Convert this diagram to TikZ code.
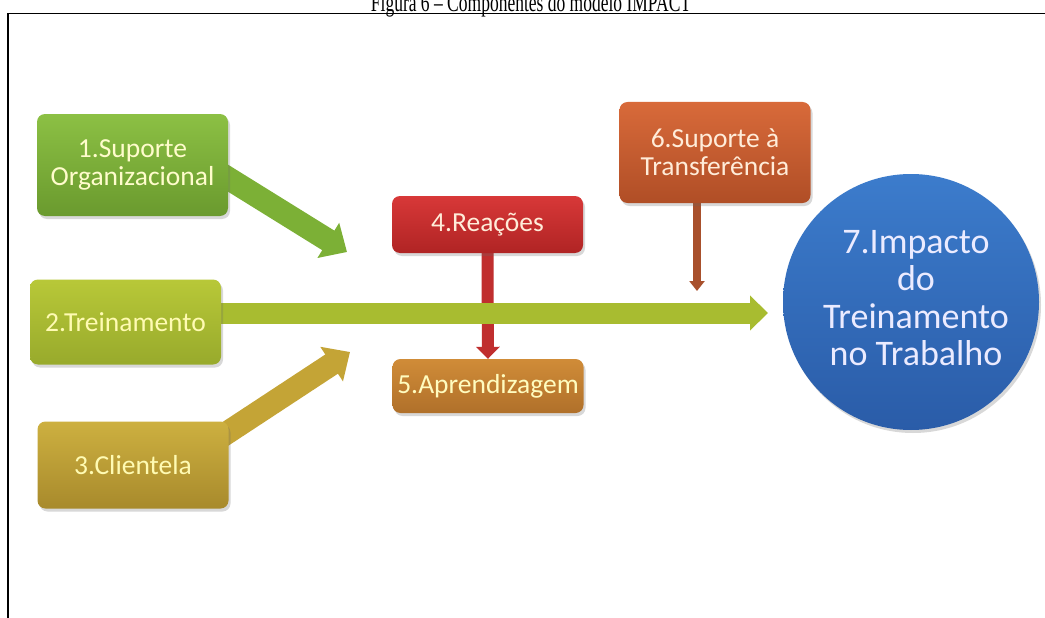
\documentclass[tikz,border=0pt]{standalone}
\usepackage{fontspec}
\setmainfont{Liberation Serif}
\newfontfamily\boxfont{Carlito}
\usetikzlibrary{arrows.meta,shadows}
\pgfdeclarelayer{back}\pgfdeclarelayer{arrowlayer}
\pgfsetlayers{back,arrowlayer,main}
\definecolor{gA}{HTML}{8CC044}\definecolor{gB}{HTML}{6A9A2E}
\definecolor{yA}{HTML}{B8C838}\definecolor{yB}{HTML}{98AA2C}
\definecolor{oA}{HTML}{CDB040}\definecolor{oB}{HTML}{A88A2C}
\definecolor{rA}{HTML}{D83838}\definecolor{rB}{HTML}{B02424}
\definecolor{aA}{HTML}{D08C38}\definecolor{aB}{HTML}{B0702A}
\definecolor{sA}{HTML}{D86A3A}\definecolor{sB}{HTML}{B04E26}
\definecolor{cA}{HTML}{3C7CCC}\definecolor{cB}{HTML}{2A5CA8}
\definecolor{arG}{HTML}{7CB036}
\definecolor{arY}{HTML}{A8BC30}
\definecolor{arO}{HTML}{C4A436}
\definecolor{arR}{HTML}{C02E2E}
\definecolor{arS}{HTML}{A8502C}
\tikzset{
  compbox/.style={rounded corners=8pt, minimum width=191pt, align=center,
    font=\boxfont\fontsize{27.5}{28}\selectfont, inner sep=2pt,
    drop shadow={shadow xshift=2pt, shadow yshift=-3pt, opacity=.25, fill=black!60}},
  fatarrow/.style={line cap=butt},
  bigdiag/.style={fatarrow, line width=23pt, -{Triangle[length=22pt,width=40pt]}},
  bighoriz/.style={fatarrow, line width=21pt, -{Triangle[length=18pt,width=34pt]}},
  redarrow/.style={fatarrow, line width=12pt, -{Triangle[length=12pt,width=23pt]}},
  thinarrow/.style={fatarrow, line width=8pt, -{Triangle[length=10pt,width=15pt]}},
}
\begin{document}
\begin{tikzpicture}[x=1pt,y=-1pt]
\useasboundingbox (0,0) rectangle (1045,618);
\clip (0,0) rectangle (1045,618);
\begin{pgfonlayer}{back}
\fill[white] (0,0) rectangle (1045,618);
\end{pgfonlayer}
% caption and frame
\node[anchor=base, font=\fontsize{17.5}{20}\selectfont, inner sep=0pt] (cap) at (531,11.5) {\scalebox{1}[1.5]{Figura 6 – Componentes do modelo IMPACT}};
\draw[line width=1.6pt] (8,620) -- (8,13.5) -- (1046,13.5);

% connector end coordinates
\coordinate (t1s) at (210,167);
\coordinate (t1) at (347,252);
\coordinate (t3s) at (210,444);
\coordinate (t3) at (350,352);
\coordinate (t2s) at (215,313);
\coordinate (t2) at (768,313);
\coordinate (t6s) at (697,200);
\coordinate (t6) at (697,291);

% boxes
\node[compbox, minimum height=102pt, top color=gA, bottom color=gB, text=yellow!20!white] (b1) at (132.5,165) {1.Suporte\\Organizacional};
\node[compbox, minimum height=85pt, top color=yA, bottom color=yB, text=yellow!30!white] (b2) at (125.5,322) {2.Treinamento};
\node[compbox, minimum height=87pt, top color=oA, bottom color=oB, text=yellow!30!white] (b3) at (133,465) {3.Clientela};
\node[compbox, minimum height=57pt, top color=rA, bottom color=rB, text=orange!15!white] (b4) at (487.5,224.5) {4.Reações};
\node[compbox, minimum height=54pt, top color=aA, bottom color=aB, text=yellow!25!white] (b5) at (488,386) {5.Aprendizagem};
\node[compbox, minimum height=101pt, top color=sA, bottom color=sB, text=orange!15!white] (b6) at (715,152.5) {6.Suporte à\\Transferência};
\node[circle, minimum size=256pt, inner sep=0pt, top color=cA, bottom color=cB,
  drop shadow={shadow xshift=2pt, shadow yshift=-3pt, opacity=.25, fill=black!60}] (c7) at (911,302) {};
\node[align=center, text=blue!8!white, font=\boxfont\fontsize{36}{37.5}\selectfont] (c7t) at (916,298) {7.Impacto\\do\\Treinamento\\no Trabalho};

% arrows behind the boxes
\begin{pgfonlayer}{arrowlayer}
\draw[redarrow, arR] (b4.south) -- (b5.north);
\draw[thinarrow, arS] (t6s) -- (t6);
\draw[bigdiag, arG] (t1s) -- (t1);
\draw[bigdiag, arO] (t3s) -- (t3);
\draw[bighoriz, arY] (t2s) -- (t2);
\end{pgfonlayer}
\end{tikzpicture}
\end{document}
